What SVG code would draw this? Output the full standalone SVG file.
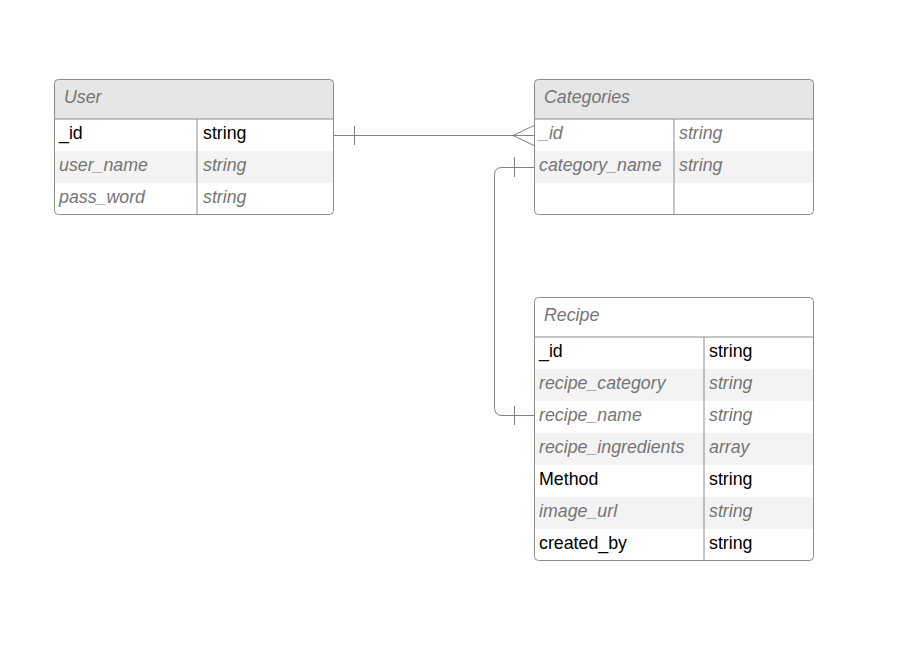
<svg xmlns="http://www.w3.org/2000/svg" width="911" height="645" viewBox="0 0 911 645">
<style>
.frame{fill:none;stroke:#8c8c8c;stroke-width:1}
.hdr{fill:#e6e6e6}
.alt{fill:#f3f3f3}
.ln{stroke:#8c8c8c;stroke-width:1;fill:none}
.t{font-family:"Liberation Sans",Arial,sans-serif;font-size:17.8px}
.i{font-style:italic;fill:#757575}
.b{fill:#000}
.con{stroke:#808080;stroke-width:1;fill:none}
</style>
<rect width="911" height="645" fill="#fff"/>
<g id="User">
<path class="hdr" d="M54,119 V83 Q54,79 58,79 H330 Q334,79 334,83 V119 Z"/>
<rect class="alt" x="54" y="151" width="280" height="32"/>
<line class="ln" x1="54" y1="119" x2="334" y2="119"/>
<line class="ln" x1="197" y1="119" x2="197" y2="215"/>
<rect class="frame" x="54.5" y="79.5" width="279" height="135" rx="4"/>
<text class="t i" x="64" y="103">User</text>
<text class="t b" x="59" y="139">_id</text>
<text class="t b" x="203" y="139">string</text>
<text class="t i" x="59" y="171">user_name</text>
<text class="t i" x="203" y="171">string</text>
<text class="t i" x="59" y="203">pass_word</text>
<text class="t i" x="203" y="203">string</text>
</g>
<g id="Categories">
<path class="hdr" d="M534,119 V83 Q534,79 538,79 H810 Q814,79 814,83 V119 Z"/>
<rect class="alt" x="534" y="151" width="280" height="32"/>
<line class="ln" x1="534" y1="119" x2="814" y2="119"/>
<line class="ln" x1="674" y1="119" x2="674" y2="215"/>
<rect class="frame" x="534.5" y="79.5" width="279" height="135" rx="4"/>
<text class="t i" x="544" y="103">Categories</text>
<text class="t i" x="539" y="139">_id</text>
<text class="t i" x="679" y="139">string</text>
<text class="t i" x="539" y="171">category_name</text>
<text class="t i" x="679" y="171">string</text>
</g>
<g id="Recipe">
<rect class="alt" x="534" y="369" width="280" height="32"/>
<rect class="alt" x="534" y="433" width="280" height="32"/>
<rect class="alt" x="534" y="497" width="280" height="32"/>
<line class="ln" x1="534" y1="337" x2="814" y2="337"/>
<line class="ln" x1="704" y1="337" x2="704" y2="561"/>
<rect class="frame" x="534.5" y="297.5" width="279" height="263" rx="4"/>
<text class="t i" x="544" y="321">Recipe</text>
<text class="t b" x="539" y="357">_id</text>
<text class="t b" x="709" y="357">string</text>
<text class="t i" x="539" y="389">recipe_category</text>
<text class="t i" x="709" y="389">string</text>
<text class="t i" x="539" y="421">recipe_name</text>
<text class="t i" x="709" y="421">string</text>
<text class="t i" x="539" y="453">recipe_ingredients</text>
<text class="t i" x="709" y="453">array</text>
<text class="t b" x="539" y="485">Method</text>
<text class="t b" x="709" y="485">string</text>
<text class="t i" x="539" y="517">image_url</text>
<text class="t i" x="709" y="517">string</text>
<text class="t b" x="539" y="549">created_by</text>
<text class="t b" x="709" y="549">string</text>
</g>
<g id="connectors">
<path class="con" d="M334,135.5 H534"/>
<path class="con" d="M354.5,126 V145"/>
<path class="con" d="M534,125.5 L513,135.5 L534,145.5"/>
<path class="con" d="M534,167.5 H502 Q494.5,167.5 494.5,175 V407 Q494.5,415.5 502,415.5 H534"/>
<path class="con" d="M514.5,157 V177"/>
<path class="con" d="M514.5,406 V425"/>
</g>
</svg>
